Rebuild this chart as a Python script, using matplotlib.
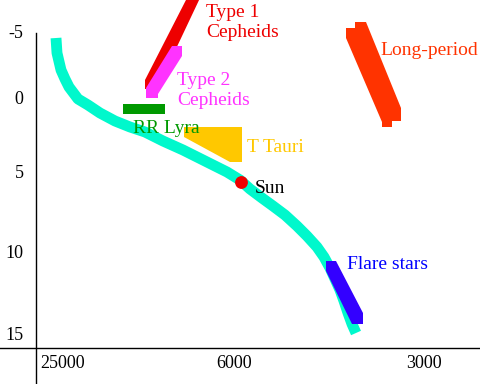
import matplotlib
matplotlib.use("Agg")
import matplotlib.pyplot as plt
from matplotlib.patches import Polygon

# Diagram coordinates (horizontal: temperature position, vertical: magnitude position)
ms_x = [56, 57, 61, 65, 69, 78, 88, 100, 115, 130, 145, 163, 183, 207, 227, 240,
        250, 262, 273, 285, 297, 307, 317, 324, 330, 335, 340, 344, 348, 352, 356]
ms_y = [38, 53, 70, 79, 87, 99, 105, 113, 121, 127, 132, 141, 150, 162, 172, 180,
        189, 198, 206, 215, 226, 236, 247, 257, 268, 279, 290, 301, 313, 324, 333]

type1_x = [145, 145, 187, 200, 157]
type1_y = [89, 80, -2, -2, 89]
type2_x = [146, 146, 172, 182, 182, 158, 158]
type2_y = [98, 88, 46, 46, 56, 94, 98]
rrlyra_x = [123, 165, 165, 123]
rrlyra_y = [104, 104, 114, 114]
ttauri_x = [184, 242, 242, 230, 184]
ttauri_y = [127, 127, 162, 162, 137]
longp_x = [346, 355, 355, 366, 401, 401, 392, 392, 382, 382, 346]
longp_y = [28, 28, 22, 22, 108, 121, 121, 127, 127, 122, 38]
flare_x = [326, 336, 363, 363, 352, 326]
flare_y = [261, 261, 313, 324, 324, 271]
sun_x, sun_y = 241, 181.5

label_text = ["Type 1\nCepheids", "Type 2\nCepheids", "RR Lyra", "T Tauri", "Sun", "Flare stars", "Long-period"]
label_x = [206, 177, 133, 247, 255, 347, 380]
label_y = [17, 85, 133, 152, 193, 269, 55]
label_color = ["#EE0000", "#FF33FF", "#009900", "#FFC800", "#000000", "#0000FF", "#FF3300"]

xtick_pos = [63, 234, 424]
xtick_lab = ["25000", "6000", "3000"]
ytick_pos = [31, 98, 172, 251, 333]
ytick_lab = ["-5", "0", "5", "10", "15"]

plt.rcParams['font.family'] = ['Liberation Serif', 'DejaVu Serif']

fig = plt.figure(figsize=(4.8, 3.84), dpi=100)
ax = fig.add_axes([0, 0, 1, 1])
ax.set_xlim(0, 480)
ax.set_ylim(384, 0)

ax.plot(ms_x, ms_y, color="#00F8CC", lw=7.8, solid_capstyle='butt', solid_joinstyle='round', zorder=2)

shapes = [(type1_x, type1_y, "#EE0000"), (type2_x, type2_y, "#FF33FF"),
          (rrlyra_x, rrlyra_y, "#009900"), (ttauri_x, ttauri_y, "#FFC800"),
          (longp_x, longp_y, "#FF3300"), (flare_x, flare_y, "#3300FF")]
for i, (xs, ys, c) in enumerate(shapes):
    ax.add_patch(Polygon(list(zip(xs, ys)), closed=True, facecolor=c, edgecolor='none', zorder=3 + i * 0.01))

ax.scatter([sun_x], [sun_y], s=85, color="#EE0000", zorder=5, linewidths=0)

for t, x, y, c in zip(label_text, label_x, label_y, label_color):
    for k, line in enumerate(t.split("\n")):
        ax.text(x, y + 20 * k, line, color=c, fontsize=14, ha='left', va='baseline', zorder=6)

for s in ['top', 'right']:
    ax.spines[s].set_visible(False)
ax.spines['left'].set_position(('data', 36))
ax.spines['left'].set_bounds(32.5, 384)
ax.spines['bottom'].set_position(('data', 348))
ax.spines['bottom'].set_bounds(0, 480)
for s in ['left', 'bottom']:
    ax.spines[s].set_linewidth(1.0)
    ax.spines[s].set_color('black')

ax.set_xticks(xtick_pos)
ax.set_xticklabels(xtick_lab)
ax.set_yticks(ytick_pos)
ax.set_yticklabels(ytick_lab)
ax.tick_params(axis='x', length=0, pad=5, labelsize=13)
ax.tick_params(axis='y', length=0, pad=9, labelsize=13)

fig.savefig("out.png", dpi=100)
